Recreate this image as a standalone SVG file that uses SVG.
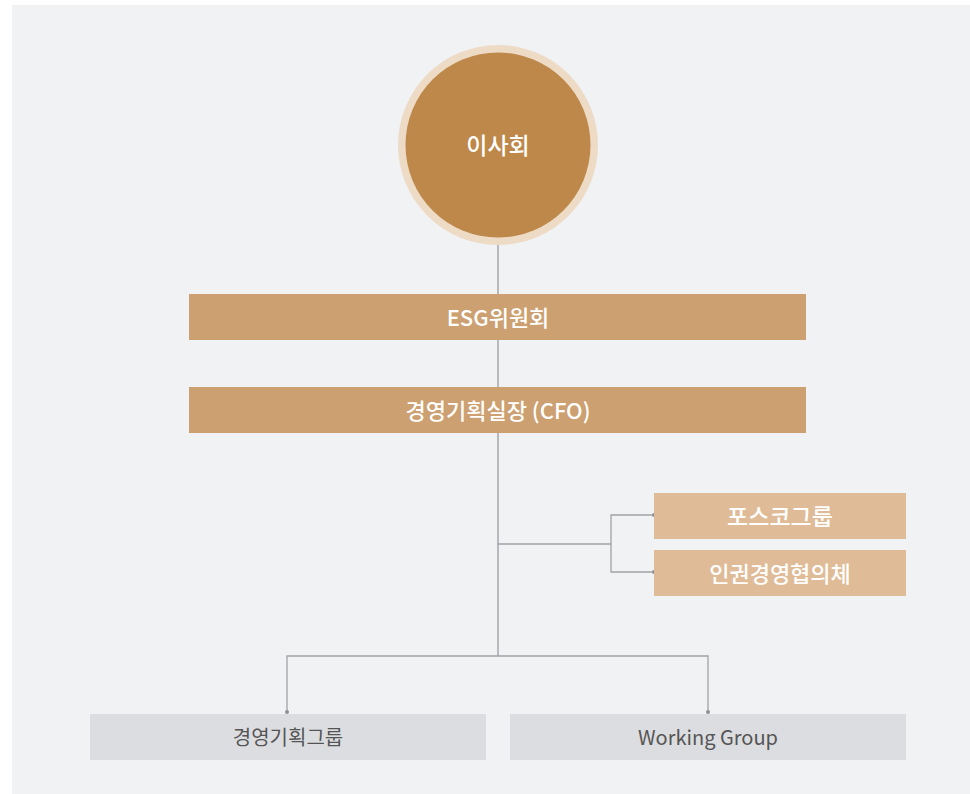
<svg xmlns="http://www.w3.org/2000/svg" width="970" height="794" viewBox="0 0 970 794">
<defs>
<style>
.t{font-family:"Noto Sans CJK KR","Noto Sans",sans-serif;font-size:20px;text-anchor:middle;dominant-baseline:central}
.w{fill:#ffffff;font-weight:500;font-size:22px}
.g{fill:#555555;font-weight:400}
.main{fill:#cca070}
.sub{fill:#dfbc97}
.low{fill:#dcdde0}
.ln{fill:none;stroke:#a0a2a6;stroke-width:1.3}
.vl{fill:none;stroke:#b8b9bc;stroke-width:2}
</style>
<marker id="dot" viewBox="0 0 4 4" refX="2" refY="2" markerWidth="4" markerHeight="4" markerUnits="userSpaceOnUse">
<circle cx="2" cy="2" r="2" fill="#8e9095"/>
</marker>
</defs>
<rect x="12" y="5" width="958" height="789" fill="#f1f2f4"/>
<g id="connectors">
<line class="vl" x1="498" y1="245" x2="498" y2="656"/>
<polyline class="ln" points="498,544 611,544"/>
<polyline class="ln" points="654,515 611,515 611,572 654,572" marker-start="url(#dot)" marker-end="url(#dot)"/>
<polyline class="ln" points="287,712 287,656 708,656 708,712" marker-start="url(#dot)" marker-end="url(#dot)"/>
</g>
<g id="board">
<circle cx="498" cy="145" r="100" fill="#eddbc6"/>
<circle cx="498" cy="145" r="92.5" fill="#bd8849"/>
<text class="t w" x="498" y="144" style="font-size:23px">이사회</text>
</g>
<g id="esg">
<rect class="main" x="189" y="294" width="617" height="46"/>
<text class="t w" x="498" y="316">ESG위원회</text>
</g>
<g id="cfo">
<rect class="main" x="189" y="387" width="617" height="46"/>
<text class="t w" x="498" y="409">경영기획실장 (CFO)</text>
</g>
<g id="posco">
<rect class="sub" x="654" y="493" width="252" height="46"/>
<text class="t w" x="780" y="515" style="font-size:23px">포스코그룹</text>
</g>
<g id="human">
<rect class="sub" x="654" y="550" width="252" height="46"/>
<text class="t w" x="780" y="572">인권경영협의체</text>
</g>
<g id="planning">
<rect class="low" x="90" y="714" width="396" height="46"/>
<text class="t g" x="288" y="736">경영기획그룹</text>
</g>
<g id="working">
<rect class="low" x="510" y="714" width="396" height="46"/>
<text class="t g" x="708" y="736">Working Group</text>
</g>
</svg>
